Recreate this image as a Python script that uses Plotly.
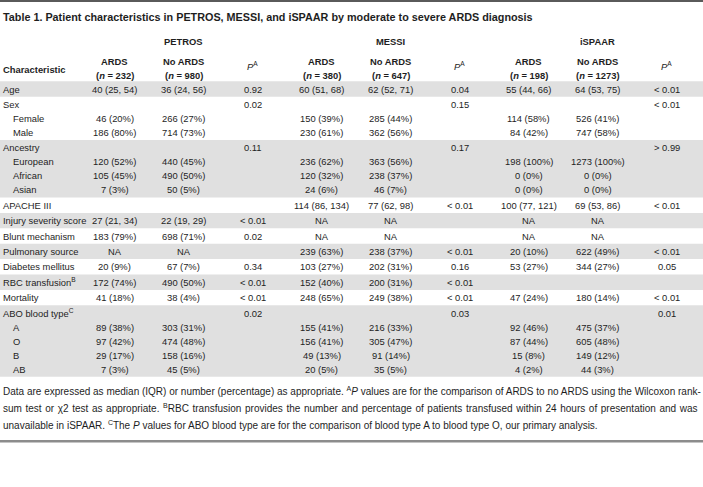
import plotly.graph_objects as go

# ---------------- data ----------------
title = "Table 1. Patient characteristics in PETROS, MESSI, and iSPAAR by moderate to severe ARDS diagnosis"
cohorts = ["PETROS", "MESSI", "iSPAAR"]
n_ards = [232, 380, 198]
n_no_ards = [980, 647, 1273]

row_labels = ["Age", "Sex", "Female", "Male", "Ancestry", "European", "African", "Asian",
              "APACHE III", "Injury severity score", "Blunt mechanism", "Pulmonary source",
              "Diabetes mellitus", "RBC transfusion<sup>B</sup>", "Mortality",
              "ABO blood type<sup>C</sup>", "A", "O", "B", "AB"]
row_indent = [0, 0, 1, 1, 0, 1, 1, 1, 0, 0, 0, 0, 0, 0, 0, 0, 1, 1, 1, 1]
# group id for shaded bands (rows sharing a group are one band)
row_group = [0, 1, 1, 1, 2, 2, 2, 2, 3, 4, 5, 6, 7, 8, 9, 10, 10, 10, 10, 10]

petros_ards = ["40 (25, 54)", "", "46 (20%)", "186 (80%)", "", "120 (52%)", "105 (45%)", "7 (3%)",
               "", "27 (21, 34)", "183 (79%)", "NA", "20 (9%)", "172 (74%)", "41 (18%)",
               "", "89 (38%)", "97 (42%)", "29 (17%)", "7 (3%)"]
petros_no = ["36 (24, 56)", "", "266 (27%)", "714 (73%)", "", "440 (45%)", "490 (50%)", "50 (5%)",
             "", "22 (19, 29)", "698 (71%)", "NA", "67 (7%)", "490 (50%)", "38 (4%)",
             "", "303 (31%)", "474 (48%)", "158 (16%)", "45 (5%)"]
petros_p = ["0.92", "0.02", "", "", "0.11", "", "", "", "", "< 0.01", "0.02", "", "0.34",
            "< 0.01", "< 0.01", "0.02", "", "", "", ""]
messi_ards = ["60 (51, 68)", "", "150 (39%)", "230 (61%)", "", "236 (62%)", "120 (32%)", "24 (6%)",
              "114 (86, 134)", "NA", "NA", "239 (63%)", "103 (27%)", "152 (40%)", "248 (65%)",
              "", "155 (41%)", "156 (41%)", "49 (13%)", "20 (5%)"]
messi_no = ["62 (52, 71)", "", "285 (44%)", "362 (56%)", "", "363 (56%)", "238 (37%)", "46 (7%)",
            "77 (62, 98)", "NA", "NA", "238 (37%)", "202 (31%)", "200 (31%)", "249 (38%)",
            "", "216 (33%)", "305 (47%)", "91 (14%)", "35 (5%)"]
messi_p = ["0.04", "0.15", "", "", "0.17", "", "", "", "< 0.01", "", "", "< 0.01", "0.16",
           "< 0.01", "< 0.01", "0.03", "", "", "", ""]
ispaar_ards = ["55 (44, 66)", "", "114 (58%)", "84 (42%)", "", "198 (100%)", "0 (0%)", "0 (0%)",
               "100 (77, 121)", "NA", "NA", "20 (10%)", "53 (27%)", "", "47 (24%)",
               "", "92 (46%)", "87 (44%)", "15 (8%)", "4 (2%)"]
ispaar_no = ["64 (53, 75)", "", "526 (41%)", "747 (58%)", "", "1273 (100%)", "0 (0%)", "0 (0%)",
             "69 (53, 86)", "NA", "NA", "622 (49%)", "344 (27%)", "", "180 (14%)",
             "", "475 (37%)", "605 (48%)", "149 (12%)", "44 (3%)"]
ispaar_p = ["< 0.01", "< 0.01", "", "", "> 0.99", "", "", "", "< 0.01", "", "", "< 0.01", "0.05",
            "", "< 0.01", "0.01", "", "", "", ""]

footnotes = [
    "Data are expressed as median (IQR) or number (percentage) as appropriate. <sup>A</sup><i>P</i> values are for the comparison of ARDS to no ARDS using the Wilcoxon rank-",
    "sum test or χ2 test as appropriate. <sup>B</sup>RBC transfusion provides the number and percentage of patients transfused within 24 hours of presentation and was",
    "unavailable in iSPAAR. <sup>C</sup>The <i>P</i> values for ABO blood type are for the comparison of blood type A to blood type O, our primary analysis.",
]
# lines of a justified paragraph (the last line is left ragged)
footnote_justify = [False, True, False]

# ---------------- layout constants ----------------
W, H = 703, 487
FONT = "Liberation Sans, Arial, sans-serif"
TXT = "#1e1e1e"
BAND = "#e0e0e0"
BODY_SIZE = 9.4
LABEL_COL_W = 80
COL_W = 69
COL_X = [LABEL_COL_W + COL_W / 2 + COL_W * k for k in range(9)]
LABEL_X = 2
INDENT_X = 12
ROW_H = 14.0
GROUP_GAP = 1.4
FIRST_ROW_Y = 89.0

columns = [petros_ards, petros_no, petros_p, messi_ards, messi_no, messi_p,
           ispaar_ards, ispaar_no, ispaar_p]

# row centres
row_y = []
y = FIRST_ROW_Y
for i in range(len(row_labels)):
    if i > 0:
        y += ROW_H + (GROUP_GAP if row_group[i] != row_group[i - 1] else 0)
    row_y.append(y)

fig = go.Figure()
shapes = []
annotations = []


def ann(x, y, text, size=BODY_SIZE, xanchor="center", bold=False, color=TXT):
    annotations.append(dict(
        x=x, y=y, xref="x", yref="y", text=f"<b>{text}</b>" if bold else text,
        showarrow=False, xanchor=xanchor, yanchor="middle", align=xanchor,
        font=dict(family=FONT, size=size, color=color), borderpad=0))


# shaded bands
groups = sorted(set(row_group))
for gi, g in enumerate(groups):
    idx = [i for i, rg in enumerate(row_group) if rg == g]
    if gi % 2 == 0:
        y0 = row_y[idx[0]] - ROW_H / 2 - GROUP_GAP / 2
        y1 = row_y[idx[-1]] + ROW_H / 2 + GROUP_GAP / 2
        shapes.append(dict(type="rect", xref="x", yref="y", x0=0, x1=W, y0=y0, y1=y1,
                           fillcolor=BAND, line=dict(width=0), layer="below"))

# rules
shapes.append(dict(type="rect", xref="x", yref="y", x0=0, x1=W, y0=0, y1=2,
                   fillcolor="#5a5a5a", line=dict(width=0)))
shapes.append(dict(type="rect", xref="x", yref="y", x0=0, x1=W, y0=440, y1=442.5,
                   fillcolor="#8c8c8c", line=dict(width=0)))

# title
ann(LABEL_X, 16.5, title, size=10.8, xanchor="left", bold=True)

# headers
for ci, name in enumerate(cohorts):
    ann(COL_X[ci * 3 + 1], 41.5, name, bold=True)
    ann(COL_X[ci * 3], 61.5, "ARDS", bold=True)
    ann(COL_X[ci * 3], 75.5, f"(<i>n</i> = {n_ards[ci]})", bold=True)
    ann(COL_X[ci * 3 + 1], 61.5, "No ARDS", bold=True)
    ann(COL_X[ci * 3 + 1], 75.5, f"(<i>n</i> = {n_no_ards[ci]})", bold=True)
    ann(COL_X[ci * 3 + 2], 65.5, "<i>P</i><sup>A</sup>")
ann(LABEL_X, 69, "Characteristic", xanchor="left", bold=True)

# body
for i, lab in enumerate(row_labels):
    ann(INDENT_X if row_indent[i] else LABEL_X, row_y[i], lab, xanchor="left")
    for c, col in enumerate(columns):
        if col[i]:
            ann(COL_X[c], row_y[i], col[i])

# footnotes
for k, line in enumerate(footnotes):
    if footnote_justify[k]:
        line = line.replace(" ", " \u200a")
    ann(LABEL_X, 391 + k * 17, line, size=10.0, xanchor="left")

fig.update_layout(
    width=W, height=H, autosize=False,
    margin=dict(l=0, r=0, t=0, b=0),
    paper_bgcolor="white", plot_bgcolor="white",
    xaxis=dict(range=[0, W], visible=False, fixedrange=True),
    yaxis=dict(range=[H, 0], visible=False, fixedrange=True),
    shapes=shapes, annotations=annotations, showlegend=False,
)
fig.write_html("out.html", config={"displayModeBar": False, "staticPlot": True},
               post_script="document.body.style.margin='0';")
